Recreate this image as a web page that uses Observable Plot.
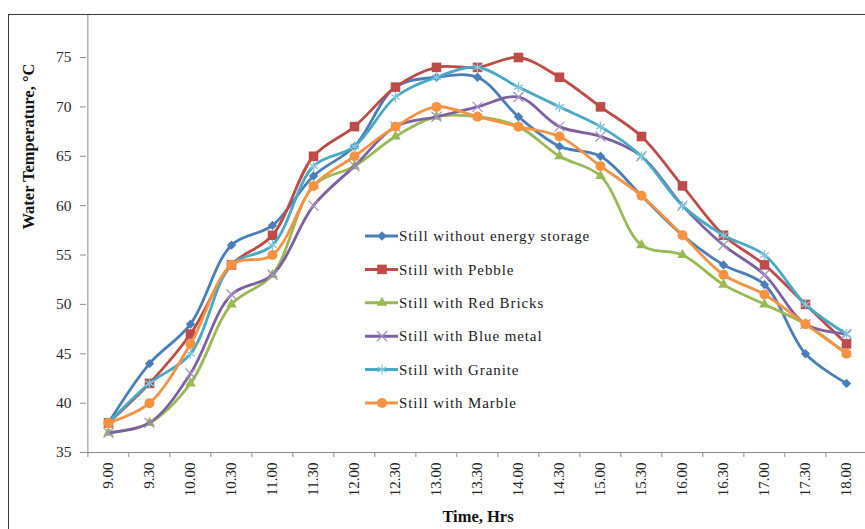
<!DOCTYPE html>
<html>
<head>
<meta charset="utf-8">
<script src="https://cdn.jsdelivr.net/npm/d3@7"></script>
<script src="https://cdn.jsdelivr.net/npm/@observablehq/plot@0.6"></script>
<style>
  html, body { margin: 0; padding: 0; background: #fff; overflow: hidden; }
  #wrap { position: relative; width: 865px; height: 529px; overflow: hidden; }
  #border { position: absolute; left: 8px; top: 14px; width: 900px; height: 600px;
            border-top: 1px solid #3a3a3a; border-left: 1px solid #3a3a3a; pointer-events: none; }
  #legend { position: absolute; left: 360px; top: 222px; }
  #legend text { font-family: "Liberation Serif", "Times New Roman", serif; font-size: 15px; fill: #1a1a1a; letter-spacing: 0.9px; }
</style>
</head>
<body>
<div id="wrap">
  <div id="chart"></div>
  <div id="border"></div>
  <svg id="legend" width="280" height="200"></svg>
</div>
<script>
// Time of day (half-hour readings)
const times = ["9.00", "9.30", "10.00", "10.30", "11.00", "11.30", "12.00", "12.30", "13.00", "13.30",
               "14.00", "14.30", "15.00", "15.30", "16.00", "16.30", "17.00", "17.30", "18.00"];

// Water temperature, °C, for each still
const withoutStorage = [38, 44, 48, 56, 58, 63, 66, 72, 73, 73, 69, 66, 65, 61, 57, 54, 52, 45, 42];
const pebble         = [38, 42, 47, 54, 57, 65, 68, 72, 74, 74, 75, 73, 70, 67, 62, 57, 54, 50, 46];
const redBricks      = [37, 38, 42, 50, 53, 62, 64, 67, 69, 69, 68, 65, 63, 56, 55, 52, 50, 48, 45];
const blueMetal      = [37, 38, 43, 51, 53, 60, 64, 68, 69, 70, 71, 68, 67, 65, 60, 56, 53, 48, 47];
const granite        = [38, 42, 45, 54, 56, 64, 66, 71, 73, 74, 72, 70, 68, 65, 60, 57, 55, 50, 47];
const marble         = [38, 40, 46, 54, 55, 62, 65, 68, 70, 69, 68, 67, 64, 61, 57, 53, 51, 48, 45];

const seriesNames = ["Still without energy storage", "Still with Pebble", "Still with Red Bricks",
                     "Still with Blue metal", "Still with Granite", "Still with Marble"];
const seriesValues = [withoutStorage, pebble, redBricks, blueMetal, granite, marble];

const yTicks = [35, 40, 45, 50, 55, 60, 65, 70, 75];

// Appearance of each series: line colour, marker symbol and marker styling
const styles = [
  {color: "#4a7ebb", symbol: "diamond2", r: 4.2, filled: true,  mark: "#4a7ebb"},
  {color: "#be4b48", symbol: "square",   r: 5.4, filled: true,  mark: "#be4b48"},
  {color: "#98b954", symbol: "triangle", r: 3.9, filled: true,  mark: "#98b954"},
  {color: "#7d60a0", symbol: "times",    r: 4.6, filled: false, mark: "#a593c0"},
  {color: "#46aac5", symbol: "asterisk", r: 4.8, filled: false, mark: "#86c6da"},
  {color: "#f69240", symbol: "circle",   r: 5.0, filled: true,  mark: "#f69240"}
];

const rows = seriesNames.map((name, s) =>
  times.map((t, i) => ({series: name, s, time: t, temp: seriesValues[s][i]})));

const serif = "'Liberation Serif', 'Times New Roman', serif";
const xRange = [105.5, 848.5];
const step = (xRange[1] - xRange[0]) / (times.length - 1);

const marks = [
  // x-axis line and y-axis line
  Plot.ruleY([35], {stroke: "#8c8c8c"}),
  Plot.ruleX([times[0]], {dx: -step / 2, stroke: "#8c8c8c"}),
  // category boundary ticks
  Plot.axisX({ticks: times, tickSize: 5, text: null, dx: -step / 2, stroke: "#8c8c8c", label: null}),
  // rotated time labels
  Plot.axisX({ticks: times, tickSize: 0, tickPadding: 10, tickRotate: -90, label: null,
              fontSize: 15, fill: "#222", style: {letterSpacing: "1.6px"}}),
  Plot.axisY({ticks: yTicks, tickSize: 6, tickPadding: 9, label: null, stroke: "#8c8c8c",
              fontSize: 15.5, fill: "#2a2a2a", style: {letterSpacing: "1.8px"}}),
  Plot.text(["Water Temperature, \u00B0C"], {frameAnchor: "left", dx: -58, dy: -4, rotate: -90,
              fontSize: 16.5, fontWeight: "bold", fill: "#111", fontFamily: serif}),
  Plot.text(["Time, Hrs"], {frameAnchor: "bottom", dx: 2, dy: 69, fontSize: 16.5, fontWeight: "bold",
              fill: "#111", fontFamily: serif})
];

rows.forEach((data, s) => {
  const st = styles[s];
  marks.push(Plot.line(data, {x: "time", y: "temp", stroke: st.color, strokeWidth: 2.8,
                              curve: "catmull-rom", strokeLinejoin: "round"}));
  marks.push(Plot.dot(data, {x: "time", y: "temp", symbol: () => st.symbol, r: st.r,
                             fill: st.filled ? st.mark : "none",
                             stroke: st.filled ? "none" : st.mark,
                             strokeWidth: st.filled ? 0 : 1.3}));
});

const chart = Plot.plot({
  width: 865,
  height: 529,
  marginLeft: 86,
  marginRight: 0,
  marginTop: 14,
  marginBottom: 77,
  style: {fontFamily: serif, background: "#fff", overflow: "visible"},
  x: {type: "point", domain: times, range: xRange, padding: 0, axis: null},
  y: {domain: [35, 75], range: [452, 57], axis: null},
  symbol: {type: "identity"},
  marks
});
document.getElementById("chart").appendChild(chart);

// Legend: line sample with marker, then series name
const leg = d3.select("#legend");
seriesNames.forEach((name, s) => {
  const st = styles[s];
  const g = leg.append("g").attr("transform", `translate(0, ${14 + s * 33.4})`);
  g.append("line").attr("x1", 5).attr("x2", 38).attr("y1", 0).attr("y2", 0)
    .attr("stroke", st.color).attr("stroke-width", 3);
  const symType = {
    diamond2: d3.symbolDiamond2, square: d3.symbolSquare, triangle: d3.symbolTriangle,
    times: d3.symbolTimes, asterisk: d3.symbolAsterisk, circle: d3.symbolCircle
  }[st.symbol];
  g.append("path").attr("transform", "translate(22, 0)")
    .attr("d", d3.symbol(symType, Math.PI * st.r * st.r)())
    .attr("fill", st.filled ? st.mark : "none")
    .attr("stroke", st.filled ? "none" : st.mark)
    .attr("stroke-width", st.filled ? 0 : 1.3);
  g.append("text").attr("x", 39).attr("y", 0).attr("dy", "0.35em").text(name);
});
</script>
</body>
</html>
